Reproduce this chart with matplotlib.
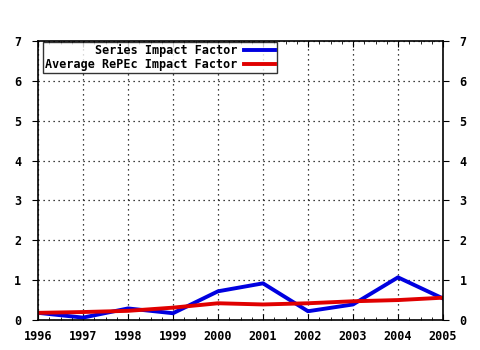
import matplotlib
matplotlib.use('Agg')
import matplotlib.pyplot as plt
from matplotlib.ticker import MultipleLocator

years = [1996, 1997, 1998, 1999, 2000, 2001, 2002, 2003, 2004, 2005]
series_if = [0.18, 0.06, 0.29, 0.17, 0.72, 0.92, 0.22, 0.39, 1.07, 0.54]
average_if = [0.18, 0.20, 0.23, 0.31, 0.42, 0.39, 0.42, 0.47, 0.50, 0.56]
y_ticks = [0, 1, 2, 3, 4, 5, 6, 7]

plt.rcParams['font.family'] = 'DejaVu Sans Mono'
plt.rcParams['font.weight'] = 'bold'
plt.rcParams['font.size'] = 8.5

fig = plt.figure(figsize=(4.8, 3.5), dpi=100)
ax = fig.add_axes([38 / 480, 30 / 350, 405 / 480, 279 / 350])

ax.plot(years, series_if, color='#0000e0', lw=2.8, label='Series Impact Factor')
ax.plot(years, average_if, color='#e00000', lw=2.8, label='Average RePEc Impact Factor')

ax.set_xlim(1996, 2005)
ax.set_ylim(0, 7)
ax.set_xticks(years)
ax.set_yticks(y_ticks)
ax.xaxis.set_minor_locator(MultipleLocator(0.25))
ax.grid(True, which='major', color='black', linestyle=(0, (1, 3)), lw=0.9)

ax.tick_params(axis='x', which='major', direction='in', length=4, top=True, pad=7)
ax.tick_params(axis='x', which='minor', direction='in', length=2, top=True)
ax.tick_params(axis='y', which='major', direction='out', length=4, right=True,
               labelright=True, pad=8)
for side in ax.spines.values():
    side.set_linewidth(1.2)

leg = ax.legend(loc='upper left', bbox_to_anchor=(0.01, 1.0), frameon=True,
                fancybox=False, edgecolor='black', markerfirst=False,
                handlelength=2.6, borderpad=0.15, labelspacing=0.1,
                handletextpad=0.6, borderaxespad=0.1)
leg.get_frame().set_linewidth(1.0)
for t in leg.get_texts():
    t.set_ha('right')
leg._legend_box.align = 'right'

fig.savefig('out.png', dpi=100, facecolor='white')
